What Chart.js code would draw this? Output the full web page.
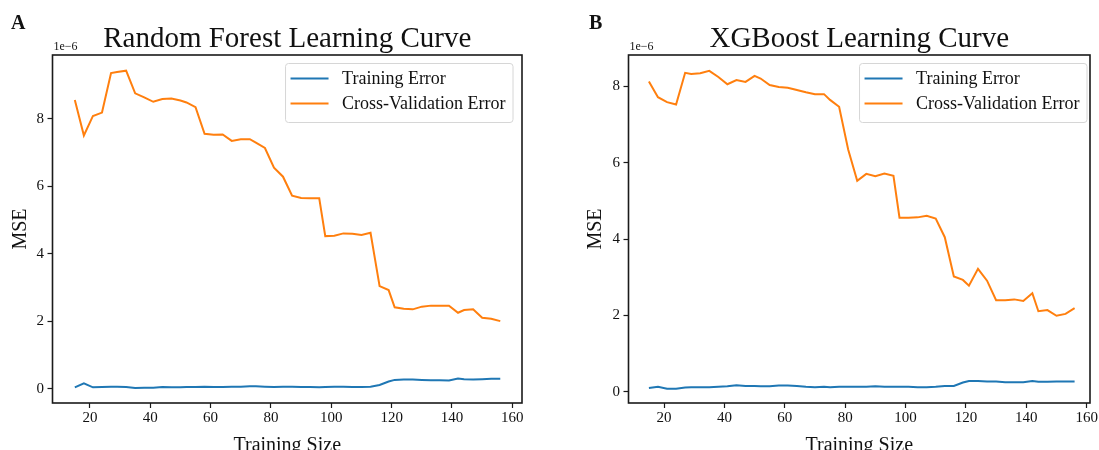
<!DOCTYPE html>
<html>
<head>
<meta charset="utf-8">
<script src="https://cdn.jsdelivr.net/npm/chart.js@4.4.0/dist/chart.umd.min.js"></script>
<style>
  html, body { margin: 0; padding: 0; background: #fff; overflow: hidden; }
  .panel { position: absolute; top: 0; height: 450px; overflow: hidden; }
</style>
</head>
<body>
<div class="panel" style="left:0;width:550px"><canvas id="rf" width="550" height="470"></canvas></div>
<div class="panel" style="left:550px;width:549px"><canvas id="xgb" width="549" height="470"></canvas></div>
<script>
/* ================= DATA (MSE values in units of 1e-6) ================= */
const trainSizes = [15, 18, 21, 24, 27, 29, 32, 35, 38, 41, 44, 47, 50, 52, 55, 58, 61, 64, 67, 70,
                    73, 75, 78, 81, 84, 87, 90, 93, 96, 98, 101, 104, 107, 110, 113, 116, 119, 121, 124, 127,
                    130, 133, 136, 139, 142, 144, 147, 150, 153, 156];

const rfTrain = [0.05, 0.17, 0.05, 0.06, 0.07, 0.07, 0.06, 0.03, 0.04, 0.04, 0.06, 0.05, 0.05, 0.06, 0.06, 0.07, 0.06, 0.06, 0.07, 0.07,
                 0.08, 0.08, 0.07, 0.06, 0.07, 0.07, 0.06, 0.06, 0.05, 0.06, 0.07, 0.07, 0.06, 0.06, 0.07, 0.12, 0.22, 0.27, 0.28, 0.28,
                 0.27, 0.26, 0.26, 0.25, 0.31, 0.29, 0.28, 0.29, 0.30, 0.30];
const rfCV = [8.56, 7.51, 8.09, 8.19, 9.36, 9.39, 9.43, 8.76, 8.64, 8.51, 8.59, 8.61, 8.55, 8.49, 8.35, 7.56, 7.53, 7.54, 7.35, 7.40,
              7.40, 7.30, 7.14, 6.56, 6.29, 5.73, 5.66, 5.65, 5.65, 4.53, 4.54, 4.61, 4.60, 4.56, 4.63, 3.05, 2.93, 2.42, 2.38, 2.36,
              2.44, 2.47, 2.47, 2.47, 2.26, 2.34, 2.36, 2.11, 2.08, 2.01];

const xgbTrain = [0.10, 0.13, 0.08, 0.08, 0.11, 0.12, 0.12, 0.12, 0.13, 0.14, 0.17, 0.15, 0.15, 0.14, 0.14, 0.16, 0.16, 0.15, 0.13, 0.12,
                  0.13, 0.12, 0.13, 0.13, 0.13, 0.13, 0.14, 0.13, 0.13, 0.13, 0.13, 0.12, 0.12, 0.13, 0.15, 0.15, 0.24, 0.28, 0.28, 0.27,
                  0.27, 0.25, 0.25, 0.25, 0.28, 0.26, 0.26, 0.27, 0.27, 0.27];
const xgbCV = [8.13, 7.72, 7.59, 7.53, 8.36, 8.33, 8.35, 8.41, 8.25, 8.06, 8.17, 8.12, 8.28, 8.21, 8.04, 7.99, 7.97, 7.91, 7.85, 7.80,
               7.80, 7.65, 7.47, 6.35, 5.53, 5.71, 5.65, 5.72, 5.66, 4.56, 4.56, 4.57, 4.61, 4.54, 4.05, 3.02, 2.93, 2.78, 3.22, 2.91,
               2.40, 2.40, 2.42, 2.38, 2.58, 2.11, 2.14, 1.99, 2.04, 2.19];

const seriesLabels = ["Training Error", "Cross-Validation Error"];
const seriesColors = ["#1f77b4", "#ff7f0e"];
const xTicks = [20, 40, 60, 80, 100, 120, 140, 160];
const yTicks = [0, 2, 4, 6, 8];

const FONT = "'Liberation Serif', 'Times New Roman', serif";
const INK = "#111";
Chart.defaults.font.family = FONT;
Chart.defaults.color = INK;

/* ================= FRAME, TITLE, LETTER, LEGEND ================= */
const panelDecor = {
    id: "panelDecor",
    afterDraw(chart, args, opts) {
        const { ctx, chartArea: a } = chart;
        ctx.save();

        ctx.strokeStyle = "#1a1a1a";
        ctx.lineWidth = 1.6;
        ctx.strokeRect(a.left, a.top, a.right - a.left, a.bottom - a.top);

        ctx.fillStyle = INK;
        ctx.textBaseline = "alphabetic";
        ctx.font = `29px ${FONT}`;
        ctx.textAlign = "center";
        ctx.fillText(opts.title, (a.left + a.right) / 2, 47);

        ctx.font = `bold 20px ${FONT}`;
        ctx.textAlign = "left";
        ctx.fillText(opts.letter, opts.letterX, 29);

        ctx.font = `12px ${FONT}`;
        ctx.fillText("1e\u22126", a.left + 1, 50);

        // legend box
        const sets = chart.data.datasets;
        ctx.font = `18px ${FONT}`;
        const textW = Math.max(...sets.map(d => ctx.measureText(d.label).width));
        const w = 5 + 38 + 13.5 + textW + 7.5;
        const h = 59;
        const x0 = a.right - opts.legendRight - w;
        const y0 = a.top + 8.5;
        ctx.beginPath();
        ctx.roundRect(x0, y0, w, h, 3);
        ctx.fillStyle = "rgba(255,255,255,0.8)";
        ctx.fill();
        ctx.strokeStyle = "#d6d6d6";
        ctx.lineWidth = 1;
        ctx.stroke();

        sets.forEach((d, i) => {
            const cy = y0 + 15 + i * 25;
            ctx.strokeStyle = d.borderColor;
            ctx.lineWidth = 2;
            ctx.beginPath();
            ctx.moveTo(x0 + 5, cy);
            ctx.lineTo(x0 + 43, cy);
            ctx.stroke();
            ctx.fillStyle = INK;
            ctx.textAlign = "left";
            ctx.textBaseline = "middle";
            ctx.fillText(d.label, x0 + 56.5, cy + 1);
        });

        ctx.restore();
    }
};

/* ================= PANEL FACTORY ================= */
function makePanel(id, p) {
    const toPoints = vals => trainSizes.map((s, i) => ({ x: s, y: vals[i] }));
    const tickGrid = { display: true, drawOnChartArea: false, drawTicks: true, tickLength: 5, tickWidth: 1.2, tickColor: "#1a1a1a" };

    return new Chart(document.getElementById(id), {
        type: "line",
        data: {
            datasets: [
                { label: seriesLabels[0], data: toPoints(p.train), borderColor: seriesColors[0], backgroundColor: seriesColors[0] },
                { label: seriesLabels[1], data: toPoints(p.cv), borderColor: seriesColors[1], backgroundColor: seriesColors[1] }
            ]
        },
        options: {
            responsive: false,
            animation: false,
            layout: { padding: { top: 55, right: p.padRight, left: 0, bottom: 0 } },
            elements: { point: { radius: 0 }, line: { borderWidth: 2, tension: 0 } },
            plugins: {
                legend: { display: false },
                tooltip: { enabled: false },
                panelDecor: { title: p.title, letter: p.letter, letterX: p.letterX, legendRight: p.legendRight }
            },
            scales: {
                x: {
                    type: "linear",
                    min: p.xMin, max: p.xMax,
                    afterBuildTicks: s => { s.ticks = xTicks.map(v => ({ value: v })); },
                    afterFit: s => { s.height = 67; },
                    ticks: { font: { size: 15 }, color: INK, padding: 1, callback: v => String(v) },
                    grid: tickGrid,
                    border: { display: false },
                    title: { display: true, text: "Training Size", font: { size: 20 }, color: INK, padding: { top: 0, bottom: 12 } }
                },
                y: {
                    type: "linear",
                    min: p.yMin, max: p.yMax,
                    afterBuildTicks: s => { s.ticks = yTicks.map(v => ({ value: v })); },
                    afterFit: s => { s.width = p.yAxisW; },
                    ticks: { font: { size: 15 }, color: INK, padding: 3.5, callback: v => String(v) },
                    grid: tickGrid,
                    border: { display: false },
                    title: { display: true, text: "MSE", font: { size: 20 }, color: INK, padding: { top: p.yTitlePad, bottom: 0 } }
                }
            }
        },
        plugins: [panelDecor]
    });
}

makePanel("rf", {
    title: "Random Forest Learning Curve", letter: "A", letterX: 11,
    train: rfTrain, cv: rfCV,
    xMin: 7.6, xMax: 163.2, yMin: -0.415, yMax: 9.896,
    yAxisW: 52.5, padRight: 28, yTitlePad: 9, legendRight: 9
});

makePanel("xgb", {
    title: "XGBoost Learning Curve", letter: "B", letterX: 39,
    train: xgbTrain, cv: xgbCV,
    xMin: 8.24, xMax: 161.1, yMin: -0.296, yMax: 8.826,
    yAxisW: 78.5, padRight: 9, yTitlePad: 34, legendRight: 3
});
</script>
</body>
</html>
